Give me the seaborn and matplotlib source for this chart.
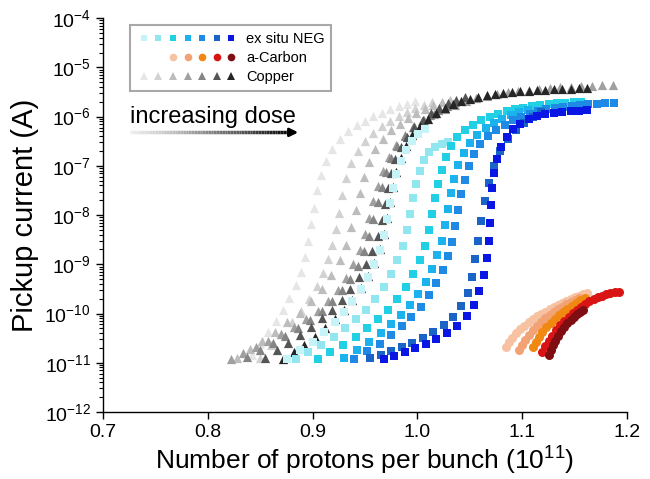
import numpy as np
import matplotlib
matplotlib.use("Agg")
import matplotlib.pyplot as plt
import seaborn as sns
from matplotlib.lines import Line2D
from matplotlib.legend_handler import HandlerTuple
from matplotlib.collections import LineCollection

# ---- data: x in 1e11 protons, log10 of pickup current ----
# Copper (light -> dark)
cu1_x = [0.842, 0.850, 0.858, 0.865, 0.872, 0.878, 0.884, 0.889, 0.893, 0.896, 0.899, 0.901, 0.904,
         0.908, 0.913, 0.919, 0.926, 0.934, 0.942, 0.950, 0.958, 0.966, 0.974, 0.982, 0.990, 0.998]
cu1_y = [-10.85, -10.62, -10.38, -10.15, -9.92, -9.68, -9.42, -9.15, -8.85, -8.52, -8.18, -7.85, -7.5,
         -7.18, -6.9, -6.65, -6.45, -6.3, -6.18, -6.08, -5.99, -5.92, -5.85, -5.79, -5.74, -5.69]
cu2_x = [0.850, 0.860, 0.870, 0.880, 0.889, 0.897, 0.904, 0.910, 0.915, 0.919, 0.922, 0.925, 0.928,
         0.932, 0.937, 0.943, 0.950, 0.958, 0.966, 0.974, 0.982, 0.990, 0.998, 1.006, 1.014]
cu2_y = [-10.9, -10.65, -10.42, -10.18, -9.95, -9.7, -9.45, -9.18, -8.9, -8.6, -8.28, -7.95, -7.6,
         -7.25, -6.95, -6.7, -6.5, -6.33, -6.2, -6.08, -5.98, -5.9, -5.83, -5.76, -5.7]
cu3_x = [0.828, 0.840, 0.852, 0.864, 0.876, 0.888, 0.899, 0.909, 0.918, 0.926, 0.932, 0.937, 0.941,
         0.945, 0.949, 0.954, 0.960, 0.967, 0.975, 0.983, 0.991, 0.999, 1.007, 1.015, 1.023, 1.031]
cu3_y = [-10.9, -10.72, -10.55, -10.37, -10.18, -9.98, -9.75, -9.5, -9.22, -8.92, -8.6, -8.25, -7.9,
         -7.55, -7.22, -6.92, -6.66, -6.45, -6.28, -6.14, -6.02, -5.92, -5.84, -5.77, -5.71, -5.66]
cu4_x = [0.822, 0.834, 0.846, 0.858, 0.870, 0.882, 0.894, 0.905, 0.915, 0.924, 0.932, 0.939, 0.945,
         0.950, 0.954, 0.958, 0.962, 0.967, 0.973, 0.980, 0.988, 0.997, 1.006, 1.016, 1.026, 1.036,
         1.046, 1.056, 1.066, 1.076, 1.086, 1.096, 1.106, 1.116, 1.126, 1.136, 1.146, 1.156, 1.166,
         1.176, 1.186]
cu4_y = [-10.92, -10.8, -10.68, -10.55, -10.42, -10.28, -10.12, -9.94, -9.74, -9.52, -9.28, -9.0, -8.7,
         -8.38, -8.05, -7.72, -7.4, -7.1, -6.82, -6.58, -6.38, -6.2, -6.06, -5.94, -5.84, -5.76,
         -5.69, -5.63, -5.58, -5.54, -5.5, -5.47, -5.45, -5.43, -5.41, -5.4, -5.39, -5.38, -5.37,
         -5.36, -5.35]
cu5_x = [0.838, 0.850, 0.862, 0.874, 0.886, 0.898, 0.909, 0.919, 0.928, 0.936, 0.943, 0.949, 0.954,
         0.958, 0.962, 0.966, 0.970, 0.975, 0.981, 0.988, 0.996, 1.004, 1.012, 1.020, 1.028, 1.036]
cu5_y = [-10.88, -10.74, -10.6, -10.45, -10.3, -10.13, -9.95, -9.75, -9.53, -9.29, -9.03, -8.74, -8.42,
         -8.08, -7.74, -7.42, -7.12, -6.85, -6.6, -6.4, -6.22, -6.08, -5.96, -5.86, -5.78, -5.71]
cu6_x = [0.855, 0.866, 0.877, 0.888, 0.899, 0.909, 0.919, 0.928, 0.936, 0.944, 0.951, 0.957, 0.962,
         0.966, 0.969, 0.972, 0.975, 0.979, 0.984, 0.990, 0.997, 1.005, 1.013, 1.021, 1.029, 1.037, 1.045]
cu6_y = [-10.9, -10.75, -10.6, -10.44, -10.27, -10.1, -9.92, -9.72, -9.5, -9.26, -9.0, -8.72, -8.42,
         -8.1, -7.78, -7.46, -7.15, -6.87, -6.62, -6.41, -6.22, -6.06, -5.93, -5.82, -5.73, -5.66, -5.6]
cu7_x = [0.872, 0.882, 0.892, 0.902, 0.912, 0.921, 0.930, 0.938, 0.946, 0.953, 0.959, 0.964, 0.968,
         0.971, 0.974, 0.977, 0.980, 0.984, 0.989, 0.995, 1.002, 1.010, 1.018, 1.026, 1.034, 1.042,
         1.050, 1.058, 1.066, 1.074, 1.082, 1.090, 1.098, 1.106, 1.114, 1.122, 1.130, 1.138, 1.146,
         1.154, 1.162]
cu7_y = [-10.92, -10.78, -10.63, -10.47, -10.3, -10.12, -9.93, -9.72, -9.49, -9.24, -8.97, -8.68, -8.38,
         -8.06, -7.74, -7.42, -7.12, -6.84, -6.6, -6.38, -6.2, -6.05, -5.93, -5.83, -5.75, -5.69,
         -5.64, -5.6, -5.57, -5.54, -5.52, -5.5, -5.48, -5.47, -5.46, -5.45, -5.44, -5.43, -5.43,
         -5.42, -5.42]

# ex situ NEG (light -> dark)
neg1_x = [0.876, 0.888, 0.900, 0.911, 0.921, 0.930, 0.938, 0.946, 0.953, 0.959, 0.964, 0.968, 0.971,
          0.974, 0.977, 0.980, 0.984, 0.989, 0.995, 1.001, 1.007]
neg1_y = [-10.92, -10.75, -10.57, -10.38, -10.18, -9.97, -9.75, -9.51, -9.26, -8.99, -8.7, -8.4, -8.08,
          -7.76, -7.45, -7.16, -6.9, -6.68, -6.5, -6.36, -6.25]
neg2_x = [0.884, 0.896, 0.908, 0.920, 0.931, 0.941, 0.951, 0.960, 0.968, 0.975, 0.981, 0.986, 0.990,
          0.993, 0.996, 0.999, 1.002, 1.006, 1.011, 1.017, 1.023, 1.029]
neg2_y = [-10.92, -10.78, -10.63, -10.47, -10.3, -10.12, -9.92, -9.7, -9.46, -9.2, -8.92, -8.62, -8.3,
          -7.98, -7.66, -7.36, -7.1, -6.88, -6.72, -6.62, -6.56, -6.52]
neg3_x = [0.905, 0.917, 0.929, 0.941, 0.952, 0.962, 0.972, 0.981, 0.989, 0.996, 1.002, 1.007, 1.011,
          1.014, 1.017, 1.020, 1.023, 1.027, 1.032, 1.038, 1.045, 1.053, 1.061, 1.069, 1.077, 1.085,
          1.093, 1.101, 1.109, 1.117, 1.125, 1.133, 1.141, 1.149, 1.156]
neg3_y = [-10.92, -10.78, -10.63, -10.47, -10.3, -10.12, -9.92, -9.7, -9.46, -9.2, -8.92, -8.62, -8.3,
          -7.98, -7.66, -7.36, -7.08, -6.82, -6.6, -6.42, -6.28, -6.16, -6.07, -6.0, -5.94, -5.89,
          -5.85, -5.82, -5.79, -5.77, -5.75, -5.73, -5.72, -5.71, -5.7]
neg4_x = [0.930, 0.942, 0.954, 0.965, 0.975, 0.984, 0.993, 1.001, 1.008, 1.014, 1.019, 1.023, 1.026,
          1.029, 1.032, 1.035, 1.039, 1.044, 1.050, 1.057, 1.065, 1.073, 1.081, 1.089, 1.097, 1.105]
neg4_y = [-10.9, -10.74, -10.57, -10.4, -10.22, -10.03, -9.82, -9.6, -9.36, -9.1, -8.82, -8.52, -8.2,
          -7.88, -7.56, -7.26, -6.98, -6.74, -6.54, -6.38, -6.24, -6.13, -6.04, -5.97, -5.91, -5.86]
neg5_x = [0.940, 0.952, 0.964, 0.975, 0.985, 0.994, 1.003, 1.011, 1.018, 1.024, 1.029, 1.033, 1.036,
          1.039, 1.042, 1.045, 1.049, 1.054, 1.060, 1.067, 1.075, 1.083, 1.091, 1.099, 1.107, 1.115,
          1.123, 1.131, 1.139, 1.147, 1.155, 1.163, 1.171, 1.179, 1.187]
neg5_y = [-10.92, -10.77, -10.61, -10.44, -10.26, -10.07, -9.86, -9.63, -9.38, -9.12, -8.84, -8.54, -8.22,
          -7.9, -7.58, -7.28, -7.0, -6.76, -6.56, -6.4, -6.27, -6.16, -6.07, -6.0, -5.94, -5.89,
          -5.85, -5.82, -5.8, -5.78, -5.76, -5.75, -5.74, -5.73, -5.72]
neg6_x = [0.955, 0.965, 0.975, 0.985, 0.995, 1.005, 1.015, 1.025, 1.034, 1.042, 1.048, 1.052, 1.055,
          1.058, 1.061, 1.064, 1.068, 1.073, 1.079, 1.086, 1.094, 1.102, 1.110, 1.118]
neg6_y = [-10.9, -10.84, -10.77, -10.69, -10.6, -10.5, -10.38, -10.24, -10.07, -9.85, -9.58, -9.25, -8.9,
          -8.52, -8.12, -7.72, -7.34, -7.0, -6.7, -6.46, -6.27, -6.12, -6.0, -5.9]
neg7_x = [0.968, 0.978, 0.988, 0.998, 1.008, 1.018, 1.028, 1.038, 1.047, 1.054, 1.059, 1.063, 1.066,
          1.068, 1.069, 1.070, 1.071, 1.073, 1.076, 1.080, 1.085, 1.091, 1.098, 1.106, 1.114, 1.122,
          1.130, 1.138, 1.146, 1.154, 1.162]
neg7_y = [-10.92, -10.86, -10.79, -10.71, -10.62, -10.52, -10.4, -10.25, -10.06, -9.82, -9.54, -9.22, -8.88,
          -8.52, -8.16, -7.8, -7.46, -7.14, -6.86, -6.62, -6.42, -6.26, -6.14, -6.05, -5.99, -5.95,
          -5.92, -5.9, -5.89, -5.88, -5.87]

# a-Carbon (light -> dark)
ac1_x = [1.084, 1.087, 1.090, 1.094, 1.098, 1.102, 1.106, 1.110, 1.114, 1.118, 1.122, 1.126, 1.130,
         1.134, 1.138, 1.142, 1.146, 1.150, 1.154, 1.158, 1.162]
ac1_y = [-10.68, -10.58, -10.49, -10.40, -10.32, -10.25, -10.18, -10.12, -10.06, -10.01, -9.96, -9.91,
         -9.86, -9.82, -9.78, -9.74, -9.70, -9.67, -9.64, -9.61, -9.58]
ac2_x = [1.097, 1.100, 1.103, 1.106, 1.110, 1.114, 1.118, 1.122, 1.126, 1.130, 1.134, 1.138, 1.142,
         1.146, 1.150, 1.154]
ac2_y = [-10.74, -10.63, -10.53, -10.44, -10.34, -10.25, -10.17, -10.1, -10.03, -9.97, -9.91, -9.86,
         -9.81, -9.76, -9.72, -9.68]
ac3_x = [1.110, 1.113, 1.116, 1.119, 1.123, 1.127, 1.131, 1.135, 1.139, 1.143, 1.147, 1.151, 1.155, 1.160]
ac3_y = [-10.68, -10.57, -10.47, -10.38, -10.28, -10.19, -10.11, -10.03, -9.96, -9.9, -9.84, -9.78,
         -9.73, -9.68]
ac4_x = [1.119, 1.122, 1.125, 1.128, 1.132, 1.136, 1.140, 1.144, 1.148, 1.152, 1.156, 1.160, 1.164,
         1.168, 1.172, 1.176, 1.180, 1.184, 1.188, 1.192]
ac4_y = [-10.78, -10.66, -10.55, -10.45, -10.34, -10.24, -10.15, -10.07, -9.99, -9.92, -9.86, -9.8,
         -9.75, -9.71, -9.67, -9.64, -9.61, -9.59, -9.57, -9.56]
ac5_x = [1.125, 1.127, 1.129, 1.131, 1.134, 1.137, 1.140, 1.143, 1.146, 1.149, 1.152, 1.155, 1.158]
ac5_y = [-10.84, -10.74, -10.64, -10.55, -10.45, -10.36, -10.28, -10.2, -10.13, -10.07, -10.01, -9.96, -9.93]

cu_colors = ['#e6e6e6', '#d2d2d2', '#bdbdbd', '#a0a0a0', '#858585', '#555555', '#262626']
neg_colors = ['#c6f3f8', '#92e6f0', '#22d0e6', '#1cb2ee', '#1e8ae6', '#1a64c8', '#0a16e4']
ac_colors = ['#f6c2a2', '#f2a274', '#f08812', '#d81414', '#7e0e12']

cu_x = [cu1_x, cu2_x, cu3_x, cu4_x, cu5_x, cu6_x, cu7_x]
cu_y = [cu1_y, cu2_y, cu3_y, cu4_y, cu5_y, cu6_y, cu7_y]
neg_x = [neg1_x, neg2_x, neg3_x, neg4_x, neg5_x, neg6_x, neg7_x]
neg_y = [neg1_y, neg2_y, neg3_y, neg4_y, neg5_y, neg6_y, neg7_y]
ac_x = [ac1_x, ac2_x, ac3_x, ac4_x, ac5_x]
ac_y = [ac1_y, ac2_y, ac3_y, ac4_y, ac5_y]

sns.set_style("ticks")
plt.rcParams['font.family'] = ['Liberation Sans', 'DejaVu Sans']
plt.rcParams['mathtext.fontset'] = 'custom'
plt.rcParams['mathtext.rm'] = 'Liberation Sans'
plt.rcParams['text.color'] = 'black'
plt.rcParams['axes.labelcolor'] = 'black'
plt.rcParams['xtick.color'] = 'black'
plt.rcParams['ytick.color'] = 'black'

fig = plt.figure(figsize=(6.5, 4.79), dpi=100)
ax = fig.add_axes([0.158, 0.140, 0.807, 0.822])

for xs, ys, c in zip(cu_x, cu_y, cu_colors):
    sns.scatterplot(x=xs, y=10.0 ** np.array(ys), color=c, marker='^', s=44, linewidth=0, ax=ax)
for xs, ys, c in zip(neg_x, neg_y, neg_colors):
    sns.scatterplot(x=xs, y=10.0 ** np.array(ys), color=c, marker='s', s=32, linewidth=0, ax=ax)
for xs, ys, c in zip(ac_x, ac_y, ac_colors):
    sns.scatterplot(x=xs, y=10.0 ** np.array(ys), color=c, marker='o', s=42, linewidth=0, ax=ax)

ax.set_yscale('log')
ax.set_xlim(0.7, 1.2)
ax.set_ylim(1e-12, 1e-4)
ax.set_xticks([0.7, 0.8, 0.9, 1.0, 1.1, 1.2])
ax.set_xticklabels(['0.7', '0.8', '0.9', '1.0', '1.1', '1.2'])
ax.set_yticks([10.0 ** e for e in range(-12, -3)])
ax.tick_params(axis='both', which='major', direction='out', length=5, width=1, labelsize=14,
               color='black', labelcolor='black')
ax.tick_params(axis='y', which='minor', direction='out', length=3, width=0.8, color='black')
for s in ['left', 'bottom']:
    ax.spines[s].set_color('black')
    ax.spines[s].set_linewidth(1)
sns.despine(ax=ax)

ax.set_xlabel('Number of protons per bunch ($\\mathregular{10^{11}}$)', fontsize=19, labelpad=3,
              color='black')
ax.set_ylabel('Pickup current (A)', fontsize=21, labelpad=4, color='black')

# legend
blank = Line2D([], [], linestyle='', marker='')
h_neg = tuple(Line2D([], [], linestyle='', marker='s', markersize=5, color=c, markeredgewidth=0) for c in neg_colors)
h_ac = (blank, blank) + tuple(Line2D([], [], linestyle='', marker='o', markersize=5.5, color=c, markeredgewidth=0) for c in ac_colors)
h_cu = tuple(Line2D([], [], linestyle='', marker='^', markersize=6, color=c, markeredgewidth=0) for c in cu_colors)
leg = ax.legend([h_neg, h_ac, h_cu], ['ex situ NEG', 'a-Carbon', 'Copper'],
                handler_map={tuple: HandlerTuple(ndivide=None, pad=0)},
                loc='upper left', bbox_to_anchor=(0.052, 0.982), borderaxespad=0,
                fontsize=10.5, handlelength=7.0, handletextpad=0.5, labelspacing=0.35,
                borderpad=0.45, fancybox=False, framealpha=1, edgecolor='#a8a8a8')
leg.get_frame().set_linewidth(1.5)
for t in leg.get_texts():
    t.set_color('black')

# increasing dose annotation with gradient arrow
ax.text(0.052, 0.75, 'increasing dose', transform=ax.transAxes, fontsize=17, va='center', ha='left',
        color='black')
xs_arrow = np.linspace(0.052, 0.365, 60)
segs = [[(xs_arrow[i], 0.71), (xs_arrow[i + 1], 0.71)] for i in range(len(xs_arrow) - 1)]
grad = plt.cm.Greys(np.linspace(0.15, 1.0, len(segs)))
ax.add_collection(LineCollection(segs, colors=grad, linewidths=2.5, transform=ax.transAxes))
ax.annotate('', xy=(0.378, 0.71), xytext=(0.355, 0.71), xycoords='axes fraction',
            arrowprops=dict(arrowstyle='-|>', color='black', lw=2, mutation_scale=12))

fig.savefig('out.png', dpi=100)
